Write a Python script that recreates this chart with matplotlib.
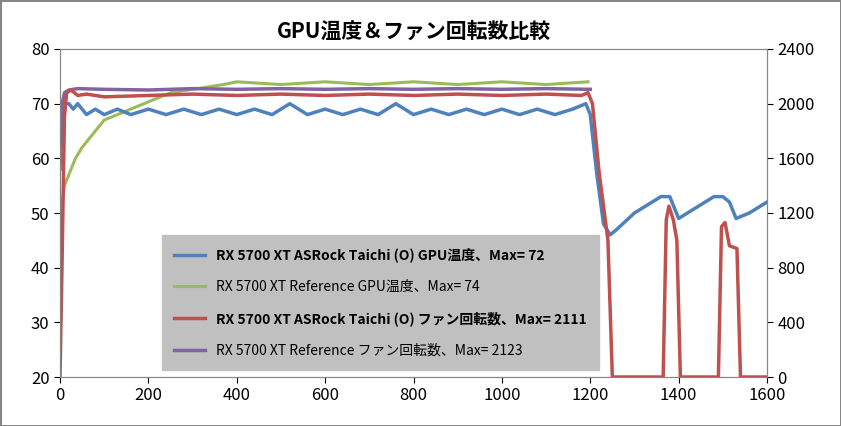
import matplotlib
matplotlib.use("Agg")
import matplotlib.pyplot as plt

plt.rcParams['font.family'] = ['Noto Sans CJK JP']

blue_t = [0, 5, 10, 20, 30, 40, 60, 80, 100, 130, 160, 200, 240, 280, 320, 360, 400, 440, 480, 520, 560, 600, 640, 680, 720, 760, 800, 840, 880, 920, 960, 1000, 1040, 1080, 1120, 1160, 1190, 1200, 1215, 1230, 1245, 1260, 1300, 1340, 1360, 1380, 1390, 1400, 1420, 1460, 1480, 1500, 1515, 1530, 1560, 1580, 1600]
blue_v = [58, 66, 70, 70, 69, 70, 68, 69, 68, 69, 68, 69, 68, 69, 68, 69, 68, 69, 68, 70, 68, 69, 68, 69, 68, 70, 68, 69, 68, 69, 68, 69, 68, 69, 68, 69, 70, 68, 57, 48, 46, 47, 50, 52, 53, 53, 51, 49, 50, 52, 53, 53, 52, 49, 50, 51, 52]

green_t = [0, 5, 10, 20, 35, 50, 70, 100, 130, 160, 190, 220, 250, 290, 330, 370, 400, 500, 600, 700, 800, 900, 1000, 1100, 1195]
green_v = [44, 52, 55, 57, 60, 62, 64, 67, 68, 69, 70, 71, 72, 72.5, 73, 73.5, 74, 73.5, 74, 73.5, 74, 73.5, 74, 73.5, 74]

red_t = [0, 5, 10, 15, 25, 40, 60, 100, 200, 300, 400, 500, 600, 700, 800, 900, 1000, 1100, 1180, 1195, 1205, 1220, 1240, 1250, 1365, 1372, 1378, 1388, 1396, 1404, 1490, 1497, 1505, 1515, 1532, 1540, 1600]
red_v = [0, 900, 1900, 2080, 2100, 2060, 2070, 2050, 2060, 2070, 2060, 2070, 2060, 2070, 2060, 2070, 2060, 2070, 2060, 2080, 2000, 1500, 1000, 0, 0, 1150, 1250, 1150, 1000, 0, 0, 1100, 1130, 960, 940, 0, 0]

purple_t = [0, 5, 10, 20, 40, 100, 200, 300, 400, 500, 600, 700, 800, 900, 1000, 1100, 1200]
purple_v = [1700, 2000, 2080, 2100, 2110, 2105, 2100, 2110, 2105, 2110, 2105, 2110, 2105, 2110, 2105, 2110, 2105]

labels = ["RX 5700 XT ASRock Taichi (O) GPU温度、Max= 72",
          "RX 5700 XT Reference GPU温度、Max= 74",
          "RX 5700 XT ASRock Taichi (O) ファン回転数、Max= 2111",
          "RX 5700 XT Reference ファン回転数、Max= 2123"]

fig = plt.figure(figsize=(8.41, 4.26), dpi=100)
ax = fig.add_axes([60/841, 49/426, 707/841, 328/426])
ax2 = ax.twinx()
l2, = ax.plot(green_t, green_v, color='#9bbb59', lw=2.2, zorder=2)
l1, = ax.plot(blue_t, blue_v, color='#4f81bd', lw=2.5, zorder=3)
l4, = ax2.plot(purple_t, purple_v, color='#8064a2', lw=2.5)
l3, = ax2.plot(red_t, red_v, color='#c0504d', lw=2.5)
ax.set_xlim(0, 1600); ax.set_ylim(20, 80)
ax2.set_ylim(0, 2400)
ax.set_xticks(range(0, 1601, 200)); ax.set_yticks(range(20, 81, 10))
ax2.set_yticks(range(0, 2401, 400))
for a in (ax, ax2):
    a.tick_params(labelsize=12, length=4, direction='out')
    for s in a.spines.values():
        s.set_color('#868686')
ax.set_title("GPU温度＆ファン回転数比較", fontsize=15, fontweight='bold', pad=8)
leg = ax.legend([l1, l2, l3, l4], labels, loc='lower left', bbox_to_anchor=(0.134, 0.0),
                fontsize=10, frameon=True, facecolor='#c0c0c0', edgecolor='#c0c0c0',
                framealpha=1, fancybox=False, borderpad=0.9, labelspacing=1.25, handlelength=2.2)
for i in (0, 2):
    leg.get_texts()[i].set_fontweight('bold')
leg.set_zorder(10)
fig.patch.set_edgecolor('#868686'); fig.patch.set_linewidth(1)
fig.savefig("out.png", dpi=100)
